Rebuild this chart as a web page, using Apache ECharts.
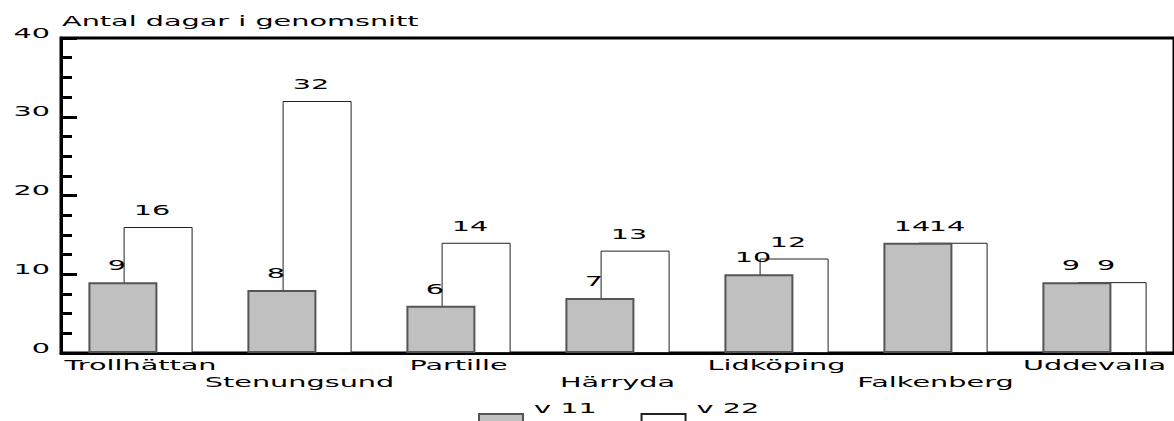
<!DOCTYPE html>
<html>
<head>
<meta charset="utf-8">
<script src="https://cdn.jsdelivr.net/npm/echarts@6/dist/echarts.min.js"></script>
<style>
  html, body { margin: 0; padding: 0; background: #fff; }
  #chart { width: 1174px; height: 421px; }
</style>
</head>
<body>
<div id="chart"></div>
<script>
// Kommuner och genomsnittligt antal dagar, vecka 11 och vecka 22
const categories = ['Trollhättan', 'Stenungsund', 'Partille', 'Härryda', 'Lidköping', 'Falkenberg', 'Uddevalla'];
const v11 = [9, 8, 6, 7, 10, 14, 9];
const v22 = [16, 32, 14, 13, 12, 14, 9];
const seriesNames = ['v 11', 'v 22'];
const axisTitle = 'Antal dagar i genomsnitt';
const yMin = 0, yMax = 40, yStep = 10;

// Wide lettering: every text run is stretched horizontally by this factor
const STRETCH = 2.05;
const FONT = '"DejaVu Sans", sans-serif';

// Legend swatch sits low in its box (the leading move-to keeps the box top),
// so the legend text reads above the swatch
const SWATCH = 'path://M0,0 M0,26 L44,26 L44,40 L0,40 Z';

const chart = echarts.init(document.getElementById('chart'), null, { renderer: 'svg' });

const valueLabel = {
  show: true,
  position: 'top',
  distance: 10,
  offset: [-6, 0],
  color: '#000',
  fontFamily: FONT,
  fontSize: 14
};

chart.setOption({
  animation: false,
  backgroundColor: '#fff',
  title: {
    text: axisTitle,
    left: 62,
    top: 14,
    padding: 0,
    textStyle: { fontFamily: FONT, fontSize: 14, fontWeight: 'normal', color: '#000' }
  },
  grid: {
    left: 61,
    right: -11,
    top: 38,
    bottom: 68,
    show: true,
    borderColor: '#000',
    borderWidth: 3,
    backgroundColor: 'transparent'
  },
  legend: {
    data: seriesNames.map(n => ({ name: n, icon: SWATCH })),
    left: 478,
    top: 387,
    padding: 0,
    itemWidth: 44,
    itemHeight: 40,
    itemGap: 76,
    textStyle: { fontFamily: FONT, fontSize: 14, color: '#000', padding: [0, 0, 0, 6] }
  },
  xAxis: {
    type: 'category',
    data: categories,
    axisLine: { show: true, lineStyle: { color: '#000', width: 3 } },
    axisTick: { show: false },
    axisLabel: {
      interval: 0,
      margin: 3,
      color: '#000',
      fontFamily: FONT,
      fontSize: 14,
      lineHeight: 17,
      formatter: (name, i) => (i % 2 ? '\n' + name : name)
    },
    splitLine: { show: false }
  },
  yAxis: {
    type: 'value',
    min: yMin,
    max: yMax,
    interval: yStep,
    axisLine: { show: true, lineStyle: { color: '#000', width: 3 } },
    axisTick: { show: true, inside: true, length: 16, lineStyle: { color: '#000', width: 3 } },
    minorTick: { show: true, splitNumber: 4, length: 11, lineStyle: { color: '#000', width: 3 } },
    axisLabel: {
      margin: 11,
      color: '#000',
      fontFamily: FONT,
      fontSize: 14,
      verticalAlign: 'bottom',
      lineHeight: 11
    },
    splitLine: { show: false }
  },
  series: [
    {
      name: seriesNames[0],
      type: 'bar',
      data: v11,
      z: 3,
      barWidth: 69,
      barGap: '-49%',
      itemStyle: { color: '#c0c0c0', borderColor: '#555', borderWidth: 2 },
      label: valueLabel
    },
    {
      name: seriesNames[1],
      type: 'bar',
      data: v22,
      z: 2,
      barWidth: 69,
      itemStyle: { color: '#fff', borderColor: '#222', borderWidth: 1 },
      label: valueLabel
    }
  ]
});

function stretchText() {
  const svg = document.querySelector('#chart svg');
  if (!svg) return;
  svg.querySelectorAll('text').forEach(t => {
    if (t.getAttribute('data-w')) return;
    const w = t.getComputedTextLength();
    if (!w) return;
    t.setAttribute('data-w', w.toFixed(2));
    t.setAttribute('textLength', (w * STRETCH).toFixed(1));
    t.setAttribute('lengthAdjust', 'spacingAndGlyphs');
  });
}
chart.on('finished', stretchText);
setTimeout(stretchText, 200);
</script>
</body>
</html>
